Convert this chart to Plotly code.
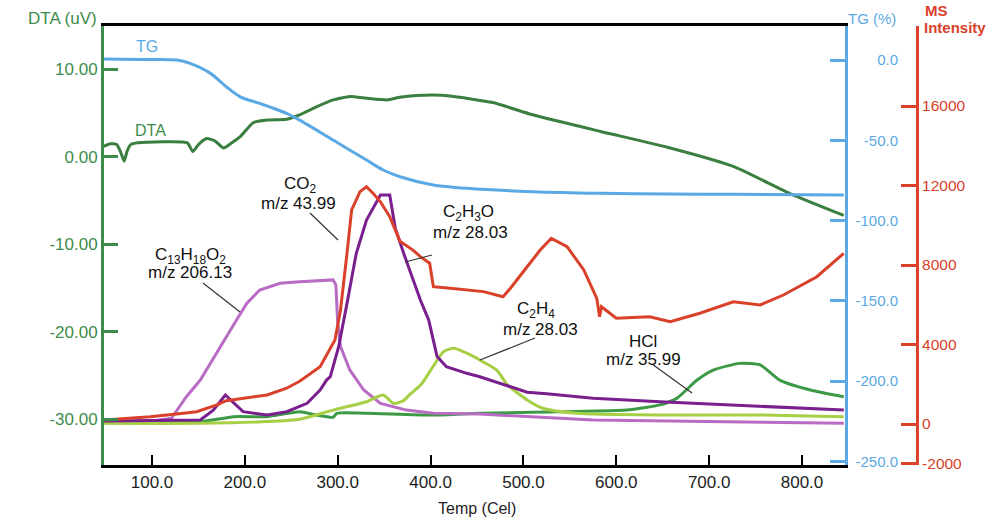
import plotly.graph_objects as go

# ---------------- data ----------------
x_ticks = [100, 200, 300, 400, 500, 600, 700, 800]
x_labels = ["100.0", "200.0", "300.0", "400.0", "500.0", "600.0", "700.0", "800.0"]
dta_ticks = [-30, -20, -10, 0, 10]
dta_labels = ["-30.00", "-20.00", "-10.00", "0.00", "10.00"]
tg_ticks = [0, -50, -100, -150, -200, -250]
tg_labels = ["0.0", "-50.0", "-100.0", "-150.0", "-200.0", "-250.0"]
ms_ticks = [-2000, 0, 4000, 8000, 12000, 16000, 20000]
ms_labels = ["-2000", "0", "4000", "8000", "12000", "16000", ""]

# TG (%)
tg_temp = [48, 87, 127, 141, 163, 180, 195, 216, 245, 259, 295, 331, 349, 367, 403, 439, 510, 583, 655, 726, 845]
tg_val = [0.6, 0.3, 0.0, -2.1, -8.3, -16.6, -22.9, -27.0, -33.2, -37.4, -49.8, -62.3, -68.5, -72.7, -77.8,
          -79.9, -82.0, -83.0, -83.4, -83.6, -84.1]

# DTA (uV)
dta_temp = [48, 55, 62, 66, 70, 73, 77, 85, 138, 144, 150, 159, 168, 177, 186, 195, 209, 224, 245, 259,
            277, 295, 313, 331, 353, 367, 385, 403, 421, 467, 510, 583, 655, 726, 787, 845]
dta_val = [1.2, 1.5, 1.4, 0.6, -0.5, 0.6, 1.4, 1.6, 1.6, 0.6, 1.4, 2.1, 1.8, 1.0, 1.6, 2.3, 3.9, 4.2, 4.3, 4.8,
           5.7, 6.5, 6.9, 6.7, 6.5, 6.8, 7.0, 7.06, 6.95, 6.2, 4.8, 2.9, 1.1, -1.1, -4.2, -6.7]

# MS: CO2 m/z 43.99
co2_temp = [48, 98, 134, 148, 170, 180, 224, 245, 259, 281, 297, 303, 310, 315, 324, 331, 338, 346, 356, 367,
            381, 389, 399, 403, 421, 439, 457, 478, 486, 504, 518, 530, 547, 565, 579, 582, 584, 600, 636, 658,
            690, 726, 755, 780, 816, 845]
co2_val = [200, 370, 540, 620, 960, 1170, 1460, 1800, 2150, 2880, 4230, 5740, 8590, 10770, 11690, 11940, 11610,
           11180, 10430, 9200, 8750, 8420, 8090, 6910, 6830, 6740, 6660, 6400, 6830, 7910, 8750, 9340, 8920, 7750,
           6320, 5400, 5900, 5320, 5400, 5150, 5570, 6150, 5990, 6490, 7410, 8590]

# MS: C2H3O m/z 28.03
c2h3o_temp = [48, 152, 166, 179, 198, 224, 245, 267, 281, 288, 292, 301, 310, 320, 331, 342, 346, 356, 362, 371,
              381, 389, 398, 407, 417, 439, 453, 464, 504, 525, 575, 647, 719, 791, 845]
c2h3o_val = [150, 200, 700, 1460, 620, 450, 620, 1040, 1710, 2210, 2380, 3890, 6070, 8590, 10260, 11180, 11520,
             11520, 9850, 8590, 7250, 6240, 5230, 3390, 2880, 2550, 2380, 2210, 1600, 1520, 1290, 1120, 960, 790, 700]

# MS: C13H18O2 m/z 206.13
c13_temp = [48, 98, 121, 137, 152, 168, 191, 202, 216, 238, 259, 295, 298, 300, 303, 313, 328, 346, 374, 403,
            453, 575, 719, 845]
c13_val = [100, 130, 290, 1370, 2210, 3470, 5230, 6070, 6740, 7080, 7160, 7250, 7000, 5100, 3890, 2720, 1710,
           1040, 700, 540, 500, 200, 120, 40]

# MS: C2H4 m/z 28.03
c2h4_temp = [48, 152, 224, 259, 295, 331, 349, 360, 370, 378, 390, 400, 414, 425, 439, 453, 471, 483, 504, 521,
             557, 647, 755, 845]
c2h4_val = [35, 35, 120, 240, 700, 1120, 1460, 1040, 1150, 1500, 2000, 2700, 3640, 3810, 3560, 3220, 2720, 1960,
            1210, 790, 540, 450, 450, 370]

# MS: HCl m/z 35.99
hcl_temp = [48, 152, 188, 224, 259, 277, 295, 299, 331, 403, 453, 539, 611, 647, 665, 687, 705, 733, 755, 776,
            809, 845]
hcl_val = [65, 116, 370, 370, 620, 450, 340, 540, 540, 450, 540, 620, 700, 960, 1290, 2210, 2720, 3050, 2970,
           2210, 1710, 1370]

# ---------------- style ----------------
GREEN = "#3e8c4b"
DTA_GREEN = "#3a7f3f"
BLUE = "#5aa9e4"
RED = "#d9412b"
PURPLE = "#7a1f8e"
ORCHID = "#b86cc4"
LIME = "#a6cf45"
HCL_GREEN = "#3c9a47"
FONT = "Liberation Sans, Arial, sans-serif"

W, H = 993, 521
ML, MR, MT, MB = 104, 20, 26, 56
PW, PH = W - ML - MR, H - MT - MB


def pxx(x):
    return (x - ML) / PW


def pxy(y):
    return (H - MB - y) / PH


fig = go.Figure()


def line(x, y, axis, color, width=3, shape="linear", smoothing=None):
    ln = dict(color=color, width=width, shape=shape)
    if smoothing is not None:
        ln["smoothing"] = smoothing
    fig.add_trace(go.Scatter(x=x, y=y, yaxis=axis, mode="lines", line=ln,
                             hoverinfo="skip", showlegend=False))


line(hcl_temp, hcl_val, "y3", HCL_GREEN, shape="spline", smoothing=0.6)
line(c13_temp, c13_val, "y3", ORCHID)
line(c2h4_temp, c2h4_val, "y3", LIME, shape="spline", smoothing=0.6)
line(c2h3o_temp, c2h3o_val, "y3", PURPLE)
line(co2_temp, co2_val, "y3", RED)
line(tg_temp, tg_val, "y2", BLUE, shape="spline", smoothing=0.8)
line(dta_temp, dta_val, "y", DTA_GREEN, shape="spline", smoothing=0.5)

fig.update_layout(
    width=W, height=H,
    margin=dict(l=ML, r=MR, t=MT, b=MB),
    paper_bgcolor="white", plot_bgcolor="white",
    font=dict(family=FONT),
    showlegend=False,
    xaxis=dict(domain=[0, (845 - ML) / PW], range=[48.3, 846.3],
               tickvals=x_ticks, ticktext=x_labels, ticks="inside", ticklen=10, tickwidth=2,
               tickcolor="black", showline=True, linecolor="black", linewidth=3, mirror=True,
               showgrid=False, zeroline=False, tickfont=dict(size=17, color="#222")),
    yaxis=dict(range=[-35.22, 14.95], tickvals=dta_ticks, ticktext=dta_labels,
               ticks="inside", ticklen=14, tickwidth=3, tickcolor=GREEN,
               showline=True, linecolor=GREEN, linewidth=3, showgrid=False, zeroline=False,
               tickfont=dict(size=17, color=GREEN)),
    yaxis2=dict(overlaying="y", side="right", anchor="x", range=[-252.2, 21.2],
                tickvals=tg_ticks, ticks="inside", ticklen=15, tickwidth=3, tickcolor=BLUE,
                showline=True, linecolor=BLUE, linewidth=3, showticklabels=False,
                showgrid=False, zeroline=False),
    yaxis4=dict(overlaying="y", side="left", anchor="free", position=pxx(898), range=[-252.2, 21.2],
                tickvals=tg_ticks, ticktext=tg_labels, ticks="", showline=False,
                showgrid=False, zeroline=False, tickfont=dict(size=15, color=BLUE)),
    yaxis3=dict(overlaying="y", side="right", anchor="free", position=pxx(917), range=[-2063, 20025],
                tickvals=ms_ticks, ticktext=ms_labels, ticks="inside", ticklen=15, tickwidth=3,
                tickcolor=RED, showline=True, linecolor=RED, linewidth=3,
                showgrid=False, zeroline=False, tickfont=dict(size=15.5, color=RED)),
)

# dummy trace so that yaxis4 is rendered
fig.add_trace(go.Scatter(x=[None], y=[None], yaxis="y4", mode="lines", showlegend=False, hoverinfo="skip"))


def text(t, x, y, color="#111", size=17, bold=False, xanchor="center"):
    fig.add_annotation(text=("<b>%s</b>" % t) if bold else t, x=pxx(x), y=pxy(y), xref="paper", yref="paper",
                       showarrow=False, xanchor=xanchor, yanchor="middle",
                       font=dict(size=size, color=color, family=FONT))


def leader(x0, y0, x1, y1):
    fig.add_shape(type="line", xref="paper", yref="paper", x0=pxx(x0), y0=pxy(y0), x1=pxx(x1), y1=pxy(y1),
                  line=dict(color="#333", width=1.2))


# axis titles
text("DTA (uV)", 62, 18, GREEN, 17)
text("TG (%)", 872, 18, BLUE, 15)
text("MS", 923, 10, RED, 15, bold=True, xanchor="left")
text("Intensity", 922, 27, RED, 15, bold=True, xanchor="left")
text("Temp (Cel)", 477, 508, "#222", 16)

# curve labels
text("TG", 147, 47, BLUE, 16)
text("DTA", 150, 130, GREEN, 16)
text("C<sub>13</sub>H<sub>18</sub>O<sub>2</sub>", 190, 256)
text("m/z 206.13", 190, 272)
leader(203, 283, 240, 312)
text("CO<sub>2</sub>", 300, 185)
text("m/z 43.99", 298, 203)
leader(310, 213, 338, 240)
text("C<sub>2</sub>H<sub>3</sub>O", 468, 213)
text("m/z 28.03", 470, 232)
leader(432, 255, 405, 262)
text("C<sub>2</sub>H<sub>4</sub>", 536, 310)
text("m/z 28.03", 540, 329)
leader(535, 338, 480, 360)
text("HCl", 643, 341)
text("m/z 35.99", 643, 359)
leader(652, 364, 692, 393)

fig.write_html("out.html")
